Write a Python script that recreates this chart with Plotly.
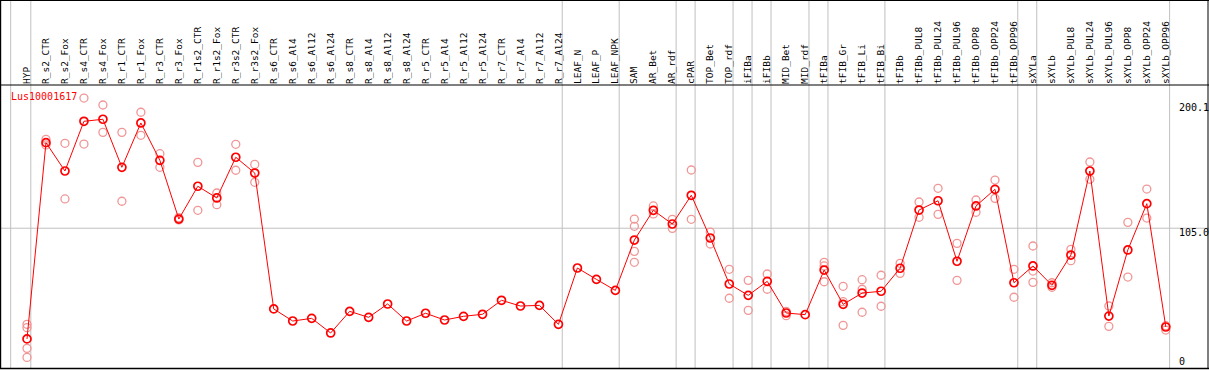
import plotly.graph_objects as go

categories = ["HYP", "R_s2_CTR", "R_s2_Fox", "R_s4_CTR", "R_s4_Fox", "R_r1_CTR", "R_r1_Fox",
              "R_r3_CTR", "R_r3_Fox", "R_r1s2_CTR", "R_r1s2_Fox", "R_r3s2_CTR", "R_r3s2_Fox",
              "R_s6_CTR", "R_s6_Al4", "R_s6_Al12", "R_s6_Al24", "R_s8_CTR", "R_s8_Al4",
              "R_s8_Al12", "R_s8_Al24", "R_r5_CTR", "R_r5_Al4", "R_r5_Al12", "R_r5_Al24",
              "R_r7_CTR", "R_r7_Al4", "R_r7_Al12", "R_r7_Al24", "LEAF_N", "LEAF_P", "LEAF_NPK",
              "SAM", "AR_Bet", "AR_rdf", "cPAR", "TOP_Bet", "TOP_rdf", "iFIBa", "iFIBb",
              "MID_Bet", "MID_rdf", "tFIBa", "tFIB_Gr", "tFIB_Li", "tFIB_Bi", "tFIBb",
              "tFIBb_PUL8", "tFIBb_PUL24", "tFIBb_PUL96", "tFIBb_OPP8", "tFIBb_OPP24",
              "tFIBb_OPP96", "sXYLa", "sXYLb", "sXYLb_PUL8", "sXYLb_PUL24", "sXYLb_PUL96",
              "sXYLb_OPP8", "sXYLb_OPP24", "sXYLb_OPP96"]

means = [17.9, 172.3, 150.0, 189.1, 190.7, 152.9, 187.8, 158.4, 112.2, 138.0, 128.8, 160.8, 148.4,
         41.5, 32.0, 34.1, 22.6, 39.6, 34.9, 45.4, 32.0, 38.1, 32.8, 35.7, 37.3, 48.3, 43.8, 44.3,
         29.4, 73.7, 64.8, 56.1, 95.7, 119.1, 108.3, 130.9, 97.3, 61.1, 52.2, 63.2, 38.3, 37.0,
         72.1, 45.1, 54.0, 55.4, 73.5, 119.3, 126.6, 79.0, 122.5, 135.6, 62.1, 75.3, 60.1, 83.9,
         150.0, 35.9, 87.9, 124.3, 27.3]

N = None
rep_a = [29.4, 174.9, 171.8, 207.4, 201.9, 180.4, 196.2, 163.6, 113.3, 156.8, 132.7, 171.0, 155.2,
         N, N, N, N, N, N, N, N, N, N, N, N, N, N, N, N, N, N, N,
         112.2, 122.5, 112.0, 150.8, 102.0, 72.7, 64.0, 69.0, 36.2, N,
         78.2, 59.3, 64.5, 68.0, 77.4, 125.6, 136.4, 93.1, 127.2, 142.9, 72.7, 91.0, 62.1, 88.4,
         157.1, 43.8, 109.6, 135.8, 28.3]
rep_b = [26.8, 170.5, 128.0, 171.2, 180.4, 126.2, 178.1, 152.9, 111.5, 119.1, 123.5, 150.6, 141.1,
         N, N, N, N, N, N, N, N, N, N, N, N, N, N, N, N, N, N, N,
         106.5, 116.2, 104.9, 112.0, 92.6, 49.9, 40.4, 57.0, 39.5, N,
         75.3, 47.2, 57.0, 43.6, 69.5, 113.6, 115.9, 64.0, 117.5, 128.5, 50.7, 71.3, 58.5, 79.5,
         143.5, 27.8, 66.6, 113.0, 24.9]
rep_c = [10.5, N, N, N, N, N, N, N, N, N, N, N, N,
         N, N, N, N, N, N, N, N, N, N, N, N, N, N, N, N, N, N, N,
         86.8, N, N, N, N, N, N, N, N, N,
         62.9, 28.6, 38.9, N, N, N, N, N, N, N, N, 62.4, N, N,
         N, N, N, N, N]
rep_d = [3.4, N, N, N, N, N, N, N, N, N, N, N, N,
         N, N, N, N, N, N, N, N, N, N, N, N, N, N, N, N, N, N, N,
         78.2, N, N, N, N, N, N, N, N, N,
         N, N, N, N, N, N, N, N, N, N, N, N, N, N,
         N, N, N, N, N]

separators = [-0.86, 0.2, 28.2, 31.2, 34.2, 35.2, 37.2, 38.2, 39.2, 41.2, 42.2, 45.2, 52.2, 53.2, 60.2]
ytick_vals = [0, 105.0, 200.1]
ytick_text = ["0", "105.0", "200.1"]
gene = "Lus10001617"

W, H = 1209, 370
TOP, BOT = 85, 1
plot_h = H - TOP - BOT
x_px0, x_step = 27.0, 18.98
y_px0, y_step = 361.7, 1.2713
xr = [-x_px0 / x_step, (W - x_px0) / x_step]
yr = [(y_px0 - (H - BOT)) / y_step, (y_px0 - TOP) / y_step]

xs = list(range(len(categories)))
font_mono = "DejaVu Sans Mono"

fig = go.Figure()
rx, ry = [], []
for reps in (rep_a, rep_b, rep_c, rep_d):
    for i, v in enumerate(reps):
        if v is not None:
            rx.append(i)
            ry.append(v)
fig.add_trace(go.Scatter(x=rx, y=ry, mode="markers",
                         marker=dict(symbol="circle-open", size=8, color="rgb(240,150,150)",
                                     line=dict(width=1.3)),
                         hoverinfo="skip", showlegend=False))
fig.add_trace(go.Scatter(x=xs, y=means, mode="lines+markers",
                         line=dict(color="#ff0000", width=1),
                         marker=dict(symbol="circle-open", size=8, color="#ff0000",
                                     line=dict(width=1.7)),
                         showlegend=False))

shapes = []
for s in separators:
    shapes.append(dict(type="line", xref="x", yref="paper", x0=s, x1=s, y0=0,
                       y1=1 + TOP / plot_h, line=dict(color="#c0c0c0", width=1), layer="below"))
shapes.append(dict(type="line", xref="paper", yref="y", x0=0, x1=1, y0=105.0, y1=105.0,
                   line=dict(color="#c0c0c0", width=1), layer="below"))
# frame
fx1 = (W - 1.0) / W
fy1 = 1 + (TOP - 0.5) / plot_h
shapes += [
    dict(type="line", xref="paper", yref="paper", x0=0.6 / W, x1=0.6 / W, y0=0, y1=fy1,
         line=dict(color="black", width=1.2)),
    dict(type="line", xref="paper", yref="paper", x0=fx1, x1=fx1, y0=0, y1=fy1,
         line=dict(color="black", width=1)),
    dict(type="line", xref="paper", yref="paper", x0=0, x1=1, y0=fy1, y1=fy1,
         line=dict(color="black", width=1)),
    dict(type="line", xref="paper", yref="paper", x0=0, x1=1, y0=1, y1=1,
         line=dict(color="black", width=1.2)),
    dict(type="line", xref="paper", yref="paper", x0=0, x1=1, y0=0.5 / plot_h, y1=0.5 / plot_h,
         line=dict(color="black", width=1.5)),
]

annotations = [dict(text=gene, xref="paper", yref="paper", x=9 / W, y=1 - 12 / plot_h,
                    xanchor="left", yanchor="middle", showarrow=False,
                    font=dict(family=font_mono, size=10, color="#ff0000"))]
yshift = {0: 0, 105.0: -4, 200.1: 0}
for v, t in zip(ytick_vals, ytick_text):
    annotations.append(dict(text=t, xref="paper", yref="y", x=1177 / W, y=v,
                            xanchor="left", yanchor="middle", showarrow=False, yshift=yshift[v],
                            font=dict(family=font_mono, size=10, color="black")))

fig.update_layout(
    width=W, height=H,
    margin=dict(l=0, r=0, t=TOP, b=BOT, pad=0),
    paper_bgcolor="white", plot_bgcolor="white",
    xaxis=dict(range=xr, side="top", tickmode="array", tickvals=xs, ticktext=categories,
               tickangle=-90, ticks="", showgrid=False, zeroline=False, showline=False,
               tickfont=dict(family=font_mono, size=9.5, color="black"), fixedrange=True),
    yaxis=dict(range=yr, showticklabels=False, showgrid=False, zeroline=False, showline=False,
               fixedrange=True),
    shapes=shapes, annotations=annotations,
)

fig.write_html("out.html", config={"displayModeBar": False},
               post_script="document.body.style.margin='0px';document.body.style.overflow='hidden';")
